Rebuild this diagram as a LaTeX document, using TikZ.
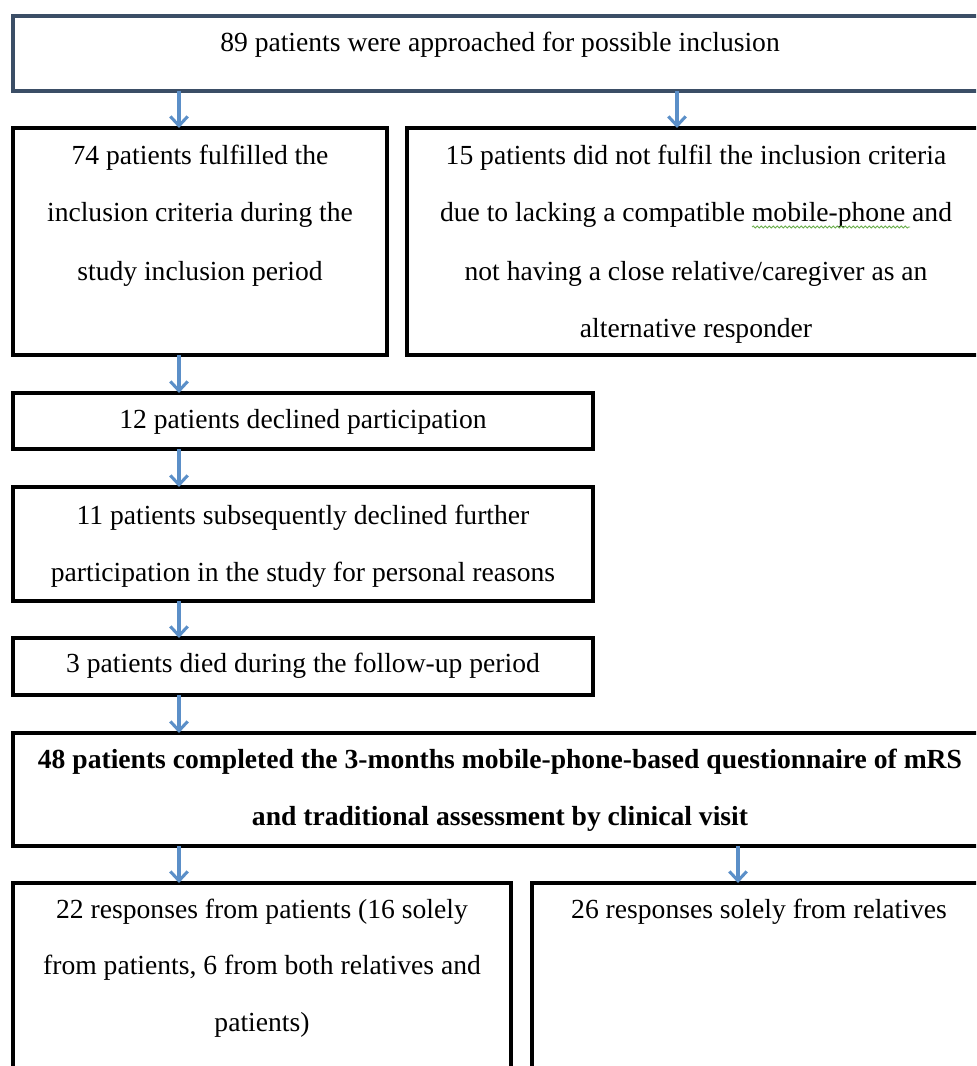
\documentclass[tikz,border=0pt]{standalone}
\usepackage{fontspec}
\setmainfont{Liberation Serif}
\usetikzlibrary{arrows.meta,decorations.pathmorphing}
\definecolor{arrowblue}{HTML}{5B8FC8}
\definecolor{slateborder}{HTML}{3B4E66}
\definecolor{spellgreen}{HTML}{6AAE4C}
\begin{document}
\begin{tikzpicture}[x=0.75pt,y=-0.75pt,
  box/.style={draw=black, line width=2.4pt, inner sep=0pt, outer sep=0pt, anchor=north west},
  txt/.style={inner sep=0pt, anchor=base, font=\fontsize{20.7pt}{24pt}\selectfont},
  btxt/.style={txt, font=\fontsize{20.7pt}{24pt}\selectfont\bfseries},
  arr/.style={draw=arrowblue, line width=2.3pt, -{Straight Barb[length=7pt,width=13pt]}}]
\useasboundingbox (0,0) rectangle (976,1066);
\clip (0,0) rectangle (976,1066);
\fill[white] (0,0) rectangle (976,1066);

% boxes
\node[box, draw=slateborder, line width=2.8pt, minimum width=730.5pt, minimum height=56.25pt] (approached) at (13,16) {};
\node[box, minimum width=280.5pt, minimum height=170.25pt] (fulfilled) at (13,128) {};
\node[box, minimum width=434.25pt, minimum height=170.25pt] (notfulfil) at (407,128) {};
\node[box, minimum width=435pt, minimum height=42pt] (declined) at (13,393) {};
\node[box, minimum width=435pt, minimum height=85.5pt] (subseq) at (13,487) {};
\node[box, minimum width=435pt, minimum height=42.75pt] (died) at (13,638) {};
\node[box, minimum width=730.5pt, minimum height=84.75pt] (completed) at (13,733) {};
\node[box, minimum width=373.5pt, minimum height=170.25pt] (frompat) at (13,883) {};
\node[box, minimum width=340.5pt, minimum height=170.25pt] (fromrel) at (532,883) {};

% texts
\node[txt] (t0) at (500,52) {89 patients were approached for possible inclusion};

\node[txt] (t1a) at (200,165) {74 patients fulfilled the};
\node[txt] (t1b) at (200,222) {inclusion criteria during the};
\node[txt] (t1c) at (200,280) {study inclusion period};

\node[txt] (t2a) at (696,165) {15 patients did not fulfil the inclusion criteria};
\node[txt] (t2b) at (696,222) {due to lacking a compatible mobile-phone and};
\node[txt] (t2c) at (696,280) {not having a close relative/caregiver as an};
\node[txt] (t2d) at (696,337) {alternative responder};

\node[txt] (t3) at (303,428) {12 patients declined participation};

\node[txt] (t4a) at (303,524) {11 patients subsequently declined further};
\node[txt] (t4b) at (303,581) {participation in the study for personal reasons};

\node[txt] (t5) at (303,672) {3 patients died during the follow-up period};

\node[btxt] (t6a) at (500,768) {48 patients completed the 3-months mobile-phone-based questionnaire of mRS};
\node[btxt] (t6b) at (500,825) {and traditional assessment by clinical visit};

\node[txt] (t7a) at (262,918) {22 responses from patients (16 solely};
\node[txt] (t7b) at (262,974) {from patients, 6 from both relatives and};
\node[txt] (t7c) at (262,1031) {patients)};

\node[txt] (t8) at (759,918) {26 responses solely from relatives};

% spell-check squiggle
\draw[spellgreen, line width=0.6pt, decorate, decoration={snake, amplitude=0.8pt, segment length=3pt}] (752,227) -- (910,227);

% arrow x positions
\coordinate (xl) at (179,0);
\coordinate (xr) at (677,0);
\coordinate (xb) at (738,0);

\draw[arr] (approached.south -| xl) -- (fulfilled.north -| xl);
\draw[arr] (approached.south -| xr) -- (notfulfil.north -| xr);
\draw[arr] (fulfilled.south -| xl) -- (declined.north -| xl);
\draw[arr] (declined.south -| xl) -- (subseq.north -| xl);
\draw[arr] (subseq.south -| xl) -- (died.north -| xl);
\draw[arr] (died.south -| xl) -- (completed.north -| xl);
\draw[arr] (completed.south -| xl) -- (frompat.north -| xl);
\draw[arr] (completed.south -| xb) -- (fromrel.north -| xb);
\end{tikzpicture}
\end{document}
